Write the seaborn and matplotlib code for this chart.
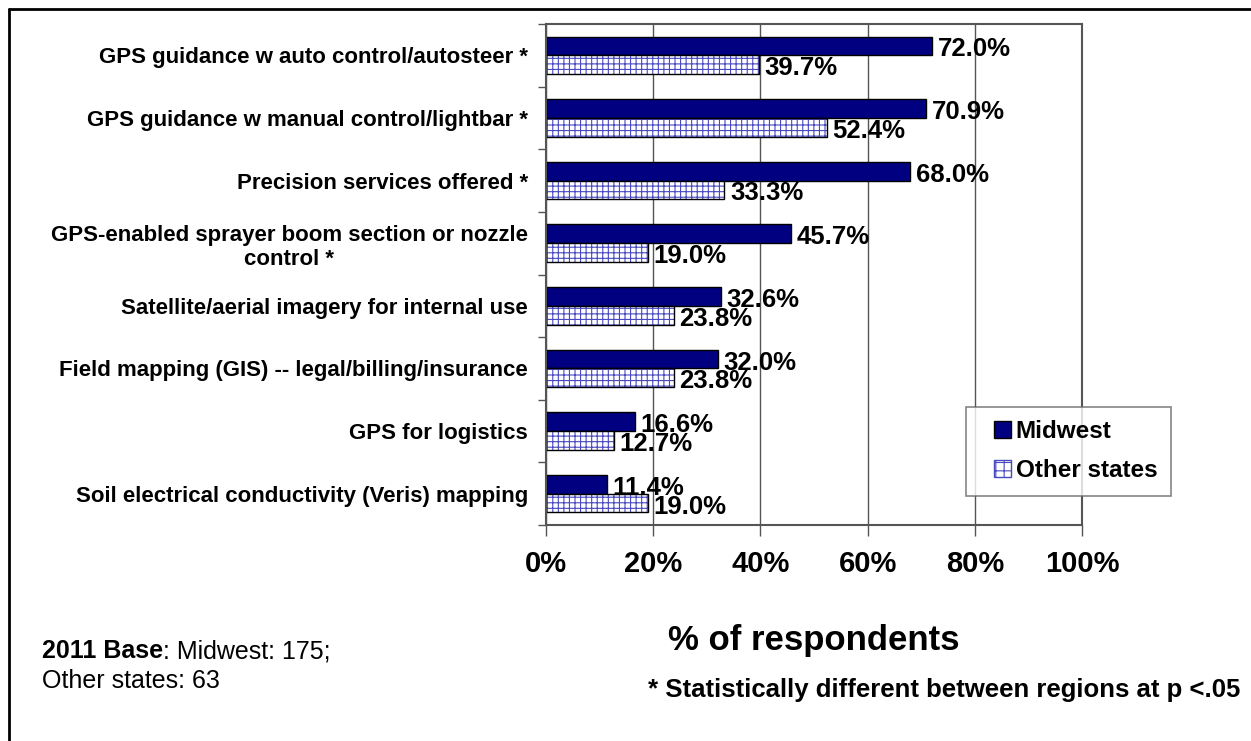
import numpy as np
import pandas as pd
import seaborn as sns
import matplotlib.pyplot as plt
from matplotlib.patches import Patch, Rectangle
from matplotlib.lines import Line2D
from matplotlib.legend_handler import HandlerPatch

categories = [
    "GPS guidance w auto control/autosteer *",
    "GPS guidance w manual control/lightbar *",
    "Precision services offered *",
    "GPS-enabled sprayer boom section or nozzle\ncontrol *",
    "Satellite/aerial imagery for internal use",
    "Field mapping (GIS) -- legal/billing/insurance",
    "GPS for logistics",
    "Soil electrical conductivity (Veris) mapping",
]
midwest = [72.0, 70.9, 68.0, 45.7, 32.6, 32.0, 16.6, 11.4]
other_states = [39.7, 52.4, 33.3, 19.0, 23.8, 23.8, 12.7, 19.0]
regions = ["Midwest", "Other states"]
x_ticks = [0, 20, 40, 60, 80, 100]

df = pd.DataFrame({
    "category": categories * 2,
    "value": midwest + other_states,
    "region": [regions[0]] * len(categories) + [regions[1]] * len(categories),
})

sns.set_theme(style="white")
plt.rcParams["font.family"] = ["Liberation Sans", "DejaVu Sans"]
plt.rcParams["hatch.linewidth"] = 0.8
for k in ["text.color", "axes.labelcolor", "xtick.labelcolor", "ytick.labelcolor"]:
    plt.rcParams[k] = "black"

NAVY = "#000080"
HATCH = "#4848c0"
GRID = "#555555"

fig = plt.figure(figsize=(12.51, 7.41), dpi=100)
ax = fig.add_axes([546 / 1251, 1 - 525 / 741, 536 / 1251, 501 / 741])

sns.barplot(data=df, y="category", x="value", hue="region", hue_order=regions,
            palette=[NAVY, "white"], width=0.6, orient="h", ax=ax, legend=False,
            edgecolor="black", linewidth=1)

n = len(categories)
bars = ax.patches[:2 * n]
for p in bars[:n]:
    p.set_facecolor(NAVY)
    p.set_edgecolor("black")
for p in bars[n:]:
    p.set_facecolor("white")
    p.set_edgecolor(HATCH)
    p.set_hatch("+++")
    p.set_linewidth(0)
    ax.add_patch(Rectangle(p.get_xy(), p.get_width(), p.get_height(),
                           fill=False, ec="black", lw=1, zorder=p.get_zorder() + 0.1))

# value labels
for p in bars:
    w = p.get_width()
    ax.annotate(f"{w:.1f}%", xy=(w, p.get_y() + p.get_height() / 2),
                xytext=(4, -2.5), textcoords="offset points",
                va="center", ha="left", fontsize=18.5, fontweight="bold")

ax.set_xlim(0, 100)
ax.set_ylim(n - 0.5, -0.5)
ax.set_xticks(x_ticks)
ax.set_xticklabels([f"{t}%" for t in x_ticks], fontsize=21, fontweight="bold")
ax.set_yticks(range(n))
ax.set_yticklabels(categories, fontsize=16, fontweight="bold")
for lab in ax.get_yticklabels():
    lab.set_multialignment("center")
ax.set_yticks(np.arange(n + 1) - 0.5, minor=True)
ax.tick_params(axis="y", which="major", length=0, pad=13)
ax.tick_params(axis="y", which="minor", length=6, width=1, color=GRID, direction="out", left=True)
ax.tick_params(axis="x", which="major", length=8, width=1, color=GRID, direction="out",
               bottom=True, pad=10)
ax.xaxis.grid(True, color=GRID, lw=1)
ax.set_axisbelow(True)
for s in ax.spines.values():
    s.set_color(GRID)
    s.set_linewidth(1.5)

ax.set_xlabel("% of respondents", fontsize=25, fontweight="bold", labelpad=33)
ax.set_ylabel("")


def square_patch(legend, orig_handle, xdescent, ydescent, width, height, fontsize):
    side = height * 1.05
    return Rectangle((width - side - xdescent, -ydescent + (height - side) / 2), side, side)


handles = [Patch(facecolor=NAVY, edgecolor="black", lw=1),
           Patch(facecolor="white", edgecolor=HATCH, hatch="++", lw=1)]
leg = fig.legend(handles, regions, loc="upper left",
                 bbox_to_anchor=(966 / 1251, 1 - 407 / 741), borderaxespad=0,
                 prop={"weight": "bold", "size": 17.5}, frameon=True, fancybox=False,
                 handlelength=1.3, handleheight=0.65, handletextpad=0.2,
                 labelspacing=0.65, borderpad=0.55,
                 handler_map={Patch: HandlerPatch(patch_func=square_patch)})
leg.get_frame().set_edgecolor("#666666")
leg.get_frame().set_linewidth(1.2)

# footnotes
base = fig.text(42 / 1251, 1 - 663 / 741, "2011 Base", fontsize=18, fontweight="bold",
                va="bottom", ha="left")
ax.annotate(": Midwest: 175;", xy=(1, 0), xycoords=base, fontsize=18,
            va="bottom", ha="left", annotation_clip=False)
fig.text(42 / 1251, 1 - 693 / 741, "Other states: 63", fontsize=18, va="bottom", ha="left")
fig.text(1240 / 1251, 1 - 690 / 741, "* Statistically different between regions at p <.05",
         fontsize=18.5, fontweight="bold", va="center", ha="right")

# outer frame (top and left edges visible)
fig.add_artist(Line2D([9 / 1251, 9 / 1251], [0, 1 - 9 / 741], transform=fig.transFigure,
                      color="black", lw=2))
fig.add_artist(Line2D([9 / 1251, 1], [1 - 9 / 741, 1 - 9 / 741], transform=fig.transFigure,
                      color="black", lw=2))

fig.savefig("out.png", dpi=100, facecolor="white")
